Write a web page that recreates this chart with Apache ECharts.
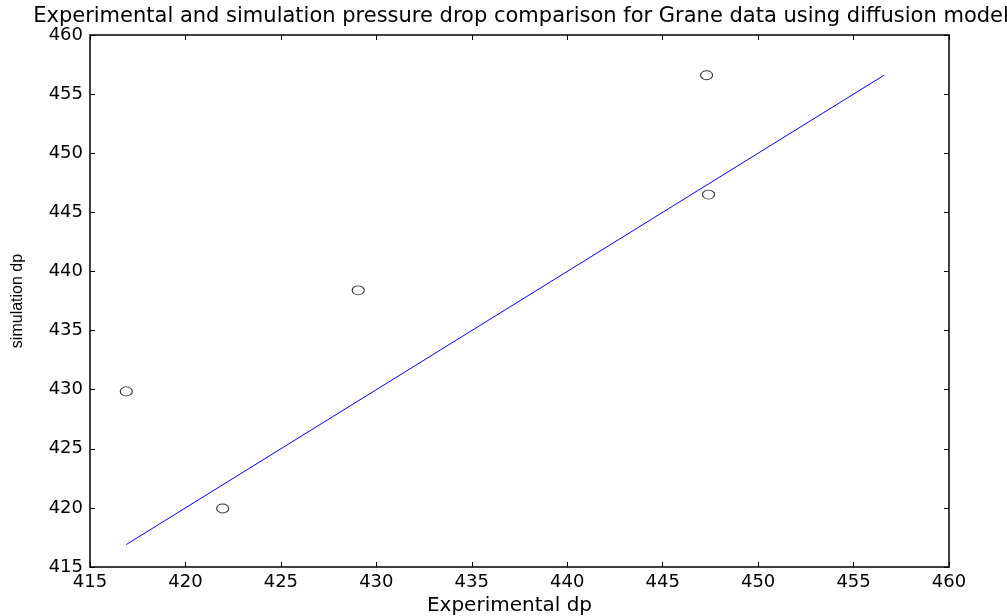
<!DOCTYPE html>
<html><head><meta charset="utf-8">
<script src="https://cdn.jsdelivr.net/npm/echarts@6/dist/echarts.min.js"></script>
<style>html,body{margin:0;padding:0;background:#fff}#c{width:1007px;height:616px}</style>
</head><body><div id="c"></div>
<script>
const experimental = [416.9, 421.95, 429.05, 447.3, 447.4];
const simulation = [429.85, 419.95, 438.4, 456.6, 446.5];
const lineX = [416.9, 456.6];
const lineY = [416.9, 456.6];
const axisTicks = [415, 420, 425, 430, 435, 440, 445, 450, 455, 460];

const chart = echarts.init(document.getElementById('c'));
const wide = 'DejaVu Sans, sans-serif';
const narrow = 'Liberation Sans, Arial, sans-serif';
const common = {
  min: axisTicks[0], max: axisTicks[axisTicks.length-1], interval: 5,
  axisLine: {show: true, onZero: false, lineStyle: {color: '#000', width: 1.5}},
  axisTick: {show: true, inside: true, length: 5, lineStyle: {color: '#000'}},
  splitLine: {show: false}
};
chart.setOption({
  animation: false,
  title: {text: 'Experimental and simulation pressure drop comparison for Grane data using diffusion model',
    left: 516, top: 1, textAlign: 'center',
    textStyle: {fontFamily: wide, fontSize: 21, fontWeight: 'normal', color: '#000'}},
  grid: {left: 90, right: 58, top: 35, bottom: 49, show: false, outerBoundsMode: 'none', containLabel: false},
  xAxis: [
    Object.assign({type: 'value', position: 'bottom', name: 'Experimental dp', nameLocation: 'middle', nameGap: 28,
      nameTextStyle: {fontFamily: wide, fontSize: 20, color: '#000', padding: [0, 20, 0, 0]},
      axisLabel: {fontFamily: wide, fontSize: 18, color: '#000', margin: 6}}, common),
    Object.assign({type: 'value', position: 'top', axisLabel: {show: false}}, common)
  ],
  yAxis: [
    Object.assign({type: 'value', position: 'left', name: 'simulation dp', nameLocation: 'middle', nameGap: 64,
      nameTextStyle: {fontFamily: narrow, fontSize: 16, color: '#000'},
      axisLabel: {fontFamily: wide, fontSize: 18, color: '#000', margin: 7}}, common),
    Object.assign({type: 'value', position: 'right', axisLabel: {show: false}}, common)
  ],
  series: [
    {type: 'line', data: lineX.map((x, i) => [x, lineY[i]]), symbol: 'none',
      lineStyle: {color: '#0000ff', width: 1}, z: 2},
    {type: 'scatter', data: experimental.map((x, i) => [x, simulation[i]]), symbol: 'circle',
      symbolSize: [12, 9], itemStyle: {color: 'rgba(255,255,255,0)', borderColor: '#000', borderWidth: 1}, z: 3}
  ]
});
</script></body></html>
